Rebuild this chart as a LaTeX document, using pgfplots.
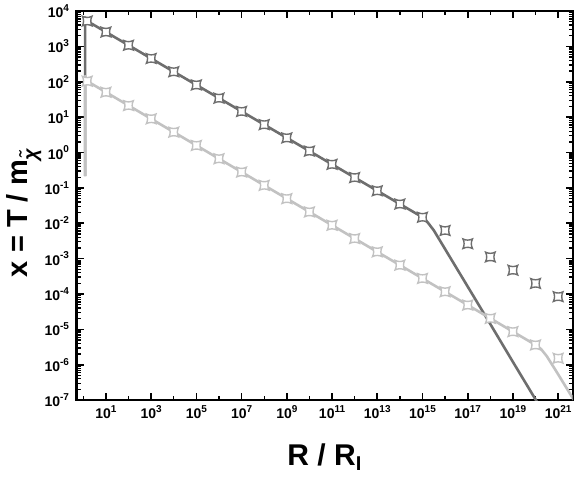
\documentclass[border=0pt]{standalone}
\usepackage{fontspec}
\setmainfont{Liberation Sans}
\usepackage{pgfplots}
\pgfplotsset{compat=1.18}
\definecolor{dk}{HTML}{6E6E6E}
\definecolor{lt}{HTML}{C2C2C2}
\newcommand\ex[1]{\raisebox{6.3pt}{\fontsize{10}{10}\selectfont #1}}
\pgfdeclareplotmark{cstar}{%
  \pgfpathmoveto{\pgfqpoint{\pgfplotmarksize}{\pgfplotmarksize}}%
  \pgfpathquadraticcurveto{\pgfqpoint{0pt}{0.5\pgfplotmarksize}}{\pgfqpoint{-\pgfplotmarksize}{\pgfplotmarksize}}%
  \pgfpathquadraticcurveto{\pgfqpoint{-0.5\pgfplotmarksize}{0pt}}{\pgfqpoint{-\pgfplotmarksize}{-\pgfplotmarksize}}%
  \pgfpathquadraticcurveto{\pgfqpoint{0pt}{-0.5\pgfplotmarksize}}{\pgfqpoint{\pgfplotmarksize}{-\pgfplotmarksize}}%
  \pgfpathquadraticcurveto{\pgfqpoint{0.5\pgfplotmarksize}{0pt}}{\pgfqpoint{\pgfplotmarksize}{\pgfplotmarksize}}%
  \pgfpathclose
  \pgfusepathqfillstroke
}
\begin{document}
\begin{tikzpicture}
\path[use as bounding box] (-76.5pt,-79pt) rectangle (497.3pt,400pt);
\begin{axis}[
  at={(0pt,0pt)}, anchor=south west,
  scale only axis, width=496pt, height=389pt,
  xmode=log, ymode=log,
  xmin=0.5, xmax=4.4e21, ymin=1e-7, ymax=1e4,
  axis line style={line width=2.2pt},
  tick align=inside,
  major tick length=7pt, minor tick length=4pt,
  every major tick/.append style={line width=1.6pt, black},
  every minor tick/.append style={line width=1.3pt, black},
  xtick={1e1,1e3,1e5,1e7,1e9,1e11,1e13,1e15,1e17,1e19,1e21},
  xticklabels={10\ex{1},10\ex{3},10\ex{5},10\ex{7},10\ex{9},10\ex{11},10\ex{13},10\ex{15},10\ex{17},10\ex{19},10\ex{21}},
  minor xtick={1e0,1e2,1e4,1e6,1e8,1e10,1e12,1e14,1e16,1e18,1e20},
  ytick={1e-7,1e-6,1e-5,1e-4,1e-3,1e-2,1e-1,1e0,1e1,1e2,1e3,1e4},
  yticklabels={10\ex{-7},10\ex{-6},10\ex{-5},10\ex{-4},10\ex{-3},10\ex{-2},10\ex{-1},10\ex{0},10\ex{1},10\ex{2},10\ex{3},10\ex{4}},
  minor ytick={2e-7,3e-7,4e-7,5e-7,6e-7,7e-7,8e-7,9e-7,
               2e-6,3e-6,4e-6,5e-6,6e-6,7e-6,8e-6,9e-6,
               2e-5,3e-5,4e-5,5e-5,6e-5,7e-5,8e-5,9e-5,
               2e-4,3e-4,4e-4,5e-4,6e-4,7e-4,8e-4,9e-4,
               2e-3,3e-3,4e-3,5e-3,6e-3,7e-3,8e-3,9e-3,
               2e-2,3e-2,4e-2,5e-2,6e-2,7e-2,8e-2,9e-2,
               0.2,0.3,0.4,0.5,0.6,0.7,0.8,0.9,
               2,3,4,5,6,7,8,9,
               20,30,40,50,60,70,80,90,
               200,300,400,500,600,700,800,900,
               2000,3000,4000,5000,6000,7000,8000,9000},
  tick label style={font=\bfseries\fontsize{14}{14}\selectfont},
  xticklabel style={yshift=-2pt},
  yticklabel style={xshift=-4pt},
  xlabel={R / R\textsubscript{\fontsize{20}{20}\selectfont I}},
  xlabel style={font=\bfseries\fontsize{30}{30}\selectfont, at={(axis description cs:0.5,0)}, anchor=base, yshift=-65pt},
  ylabel={x = T / m\textsubscript{\fontsize{20}{20}\selectfont\itshape\~{χ}}},
  ylabel style={font=\bfseries\fontsize{29}{29}\selectfont, at={(axis description cs:-0.1058,0.482)}, anchor=center},
  clip=true,
]
% dark curve
\addplot[dk, line width=2.6pt, line join=round] coordinates {
 (1.2,0.214) (1.2,6600) (1.479,5200) (10,2547) (100,1076) (1e3,455) (1e4,192) (1e5,81.3)
 (1e6,34.4) (1e7,14.5) (1e8,6.14) (1e9,2.59) (1e10,1.096) (1e11,0.4634) (1e12,0.1959)
 (1e13,0.0828) (1e14,0.0350) (1e15,0.01479) (1.778e15,0.0102) (3.162e15,0.00631)
 (1e16,1.862e-3) (1e17,1.622e-4) (1e18,1.413e-5) (1e19,1.202e-6) (1e20,1.047e-7) (3.162e20,3.09e-8)
};
% light curve
\addplot[lt, line width=2.6pt, line join=round] coordinates {
 (1.2,0.214) (1.2,145) (1.479,103.8) (10,50.6) (100,21.3) (1e3,8.95) (1e4,3.767) (1e5,1.585)
 (1e6,0.6668) (1e7,0.2805) (1e8,0.1180) (1e9,0.04966) (1e10,0.02089) (1e11,8.79e-3)
 (1e12,3.70e-3) (1e13,1.556e-3) (1e14,6.55e-4) (1e15,2.754e-4) (1e16,1.159e-4)
 (1e17,4.875e-5) (1e18,2.051e-5) (1e19,8.63e-6) (1e20,3.631e-6) (1.778e20,2.754e-6)
 (3.162e20,1.738e-6) (1e21,5.37e-7) (5.01e21,1e-7)
};
% dark markers
\addplot[only marks, mark=cstar, mark size=4.8pt, dk, line width=1.4pt, fill=white] coordinates {
 (1.479,5200) (10,2547) (100,1076) (1e3,455) (1e4,192) (1e5,81.3)
 (1e6,34.4) (1e7,14.5) (1e8,6.14) (1e9,2.59) (1e10,1.096) (1e11,0.4634) (1e12,0.1959)
 (1e13,0.0828) (1e14,0.0350) (1e15,0.01479) (1e16,0.00625) (1e17,0.002642) (1e18,0.001117)
 (1e19,4.72e-4) (1e20,1.995e-4) (1e21,8.43e-5)
};
% light markers
\addplot[only marks, mark=cstar, mark size=4.8pt, lt, line width=1.4pt, fill=white] coordinates {
 (1.479,103.8) (10,50.6) (100,21.3) (1e3,8.95) (1e4,3.767) (1e5,1.585)
 (1e6,0.6668) (1e7,0.2805) (1e8,0.1180) (1e9,0.04966) (1e10,0.02089) (1e11,8.79e-3)
 (1e12,3.70e-3) (1e13,1.556e-3) (1e14,6.55e-4) (1e15,2.754e-4) (1e16,1.159e-4)
 (1e17,4.875e-5) (1e18,2.051e-5) (1e19,8.63e-6) (1e20,3.631e-6) (1e21,1.528e-6)
};
\end{axis}
\end{tikzpicture}
\end{document}
